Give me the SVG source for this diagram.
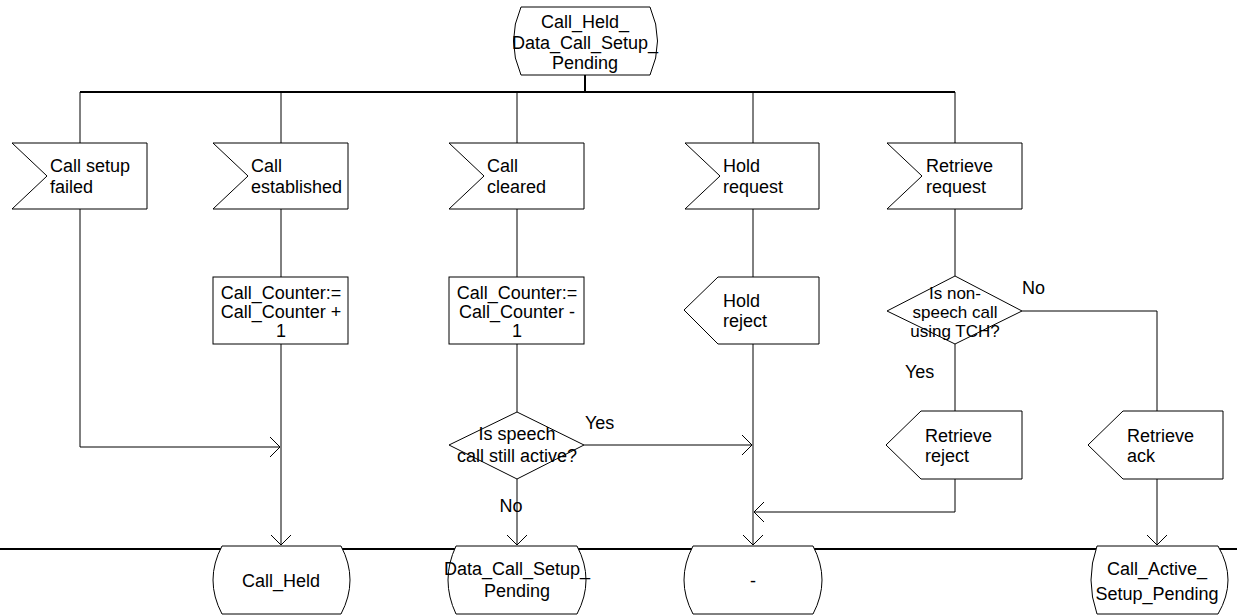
<svg xmlns="http://www.w3.org/2000/svg" width="1237" height="615" viewBox="0 0 1237 615">
<style>
.s{fill:#fff;stroke:#000;stroke-width:1}
.c{fill:none;stroke:#000;stroke-width:1}
.b{stroke-width:2}
.t{font-family:"Liberation Sans",Arial,sans-serif;font-size:18px;fill:#000}
.d{font-size:17px}
.m{text-anchor:middle}
</style>
<defs>
<marker id="a" viewBox="0 0 12 22" refX="11" refY="11" markerWidth="12" markerHeight="22" markerUnits="userSpaceOnUse" orient="auto">
<path d="M1,1 L11,11 L1,21" fill="none" stroke="#000" stroke-width="1"/>
</marker>
</defs>
<g id="connectors">
<path class="c b" d="M585,75 V92"/>
<path class="c b" d="M80,92 H955"/>
<path class="c b" d="M0,549 H1237"/>
<path class="c" d="M80,92 V143 M281,92 V143 M517,92 V143 M753,92 V143 M955,92 V143"/>
<path class="c" d="M80,209 V447 H280" marker-end="url(#a)"/>
<path class="c" d="M281,209 V277"/>
<path class="c" d="M281,344 V545" marker-end="url(#a)"/>
<path class="c" d="M517,209 V277 M517,344 V412"/>
<path class="c" d="M517,479 V545" marker-end="url(#a)"/>
<path class="c" d="M584,445 H752" marker-end="url(#a)"/>
<path class="c" d="M753,209 V277"/>
<path class="c" d="M753,344 V545" marker-end="url(#a)"/>
<path class="c" d="M955,209 V276 M955,344 V411"/>
<path class="c" d="M955,479 V512 H754" marker-end="url(#a)"/>
<path class="c" d="M1022,311 H1157 V411"/>
<path class="c" d="M1157,479 V545" marker-end="url(#a)"/>
</g>
<g id="start">
<path class="s" d="M521,7 H650 Q665,41 650,75 H521 Q506,41 521,7 Z"/>
<text class="t m" x="585" y="28">Call_Held_</text>
<text class="t m" x="585" y="49">Data_Call_Setup_</text>
<text class="t m" x="585" y="69">Pending</text>
</g>
<g id="sig1">
<path class="s" d="M12,143 H147 V209 H12 L47,176 Z"/>
<text class="t" x="50" y="172">Call setup</text>
<text class="t" x="50" y="193">failed</text>
</g>
<g id="sig2">
<path class="s" d="M213,143 H348 V209 H213 L248,176 Z"/>
<text class="t" x="251" y="172">Call</text>
<text class="t" x="251" y="193">established</text>
</g>
<g id="sig3">
<path class="s" d="M449,143 H584 V209 H449 L484,176 Z"/>
<text class="t" x="487" y="172">Call</text>
<text class="t" x="487" y="193">cleared</text>
</g>
<g id="sig4">
<path class="s" d="M685,143 H819 V209 H685 L720,176 Z"/>
<text class="t" x="723" y="172">Hold</text>
<text class="t" x="723" y="193">request</text>
</g>
<g id="sig5">
<path class="s" d="M887,143 H1022 V209 H887 L922,176 Z"/>
<text class="t" x="926" y="172">Retrieve</text>
<text class="t" x="926" y="193">request</text>
</g>
<g id="task1">
<rect class="s" x="213" y="277" width="135" height="67"/>
<text class="t m" x="281" y="299">Call_Counter:=</text>
<text class="t m" x="281" y="318">Call_Counter +</text>
<text class="t m" x="281" y="337">1</text>
</g>
<g id="task2">
<rect class="s" x="449" y="277" width="135" height="67"/>
<text class="t m" x="517" y="299">Call_Counter:=</text>
<text class="t m" x="517" y="318">Call_Counter -</text>
<text class="t m" x="517" y="337">1</text>
</g>
<g id="holdreject">
<path class="s" d="M718,277 H819 V344 H718 L684,310 Z"/>
<text class="t" x="723" y="307">Hold</text>
<text class="t" x="723" y="327">reject</text>
</g>
<g id="dec1">
<path class="s" d="M955,276 L1022,311 L955,344 L887,311 Z"/>
<text class="t d m" x="955" y="299">Is non-</text>
<text class="t d m" x="955" y="318">speech call</text>
<text class="t d m" x="955" y="337">using TCH?</text>
<text class="t" x="1022" y="294">No</text>
<text class="t" x="905" y="378">Yes</text>
</g>
<g id="dec2">
<path class="s" d="M517,412 L584,445 L517,479 L449,445 Z"/>
<text class="t m" x="517" y="440">Is speech</text>
<text class="t m" x="517" y="462">call still active?</text>
<text class="t" x="585" y="429">Yes</text>
<text class="t m" x="511" y="512">No</text>
</g>
<g id="retreject">
<path class="s" d="M921,411 H1022 V479 H921 L886,445 Z"/>
<text class="t" x="925" y="442">Retrieve</text>
<text class="t" x="925" y="462">reject</text>
</g>
<g id="retack">
<path class="s" d="M1123,411 H1223 V479 H1123 L1088,445 Z"/>
<text class="t" x="1127" y="442">Retrieve</text>
<text class="t" x="1127" y="462">ack</text>
</g>
<g id="st1">
<path class="s" d="M222,546 H341 Q359,580 341,614 H222 Q204,580 222,546 Z"/>
<text class="t m" x="281" y="587">Call_Held</text>
</g>
<g id="st2">
<path class="s" d="M456,546 H577 Q595,580 577,614 H456 Q440,580 456,546 Z"/>
<text class="t m" x="517" y="575">Data_Call_Setup_</text>
<text class="t m" x="517" y="597">Pending</text>
</g>
<g id="st3">
<path class="s" d="M693,546 H813 Q831,580 813,614 H693 Q675,580 693,546 Z"/>
<text class="t m" x="753" y="587">-</text>
</g>
<g id="st4">
<path class="s" d="M1097,546 H1218 Q1238,580 1218,614 H1097 Q1085,580 1097,546 Z"/>
<text class="t m" x="1157" y="575">Call_Active_</text>
<text class="t m" x="1157" y="600">Setup_Pending</text>
</g>
</svg>
